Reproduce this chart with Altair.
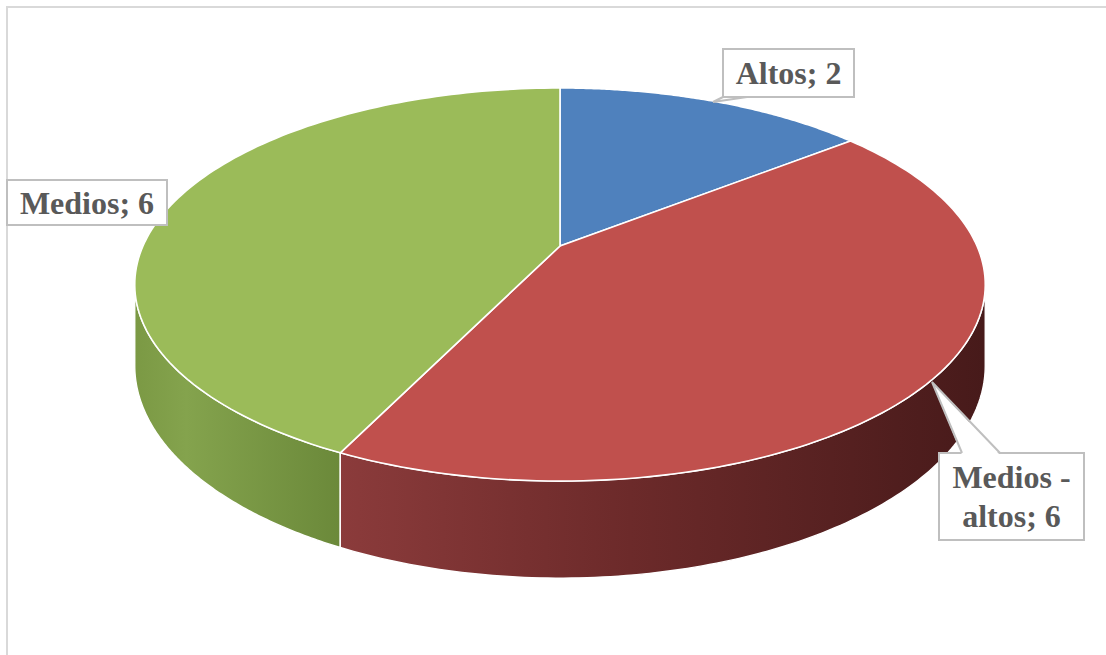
import altair as alt
import pandas as pd
import math

# ---- data ----
categorias = ["Altos", "Medios - altos", "Medios"]
valores = [2, 6, 6]
colores_cara = ["#4f81bd", "#c0504d", "#9bbb59"]

# ---- layout / style (3D perspective pie) ----
W, H = 1106, 655
CX, CY = 560, 246        # apex of the pie on screen
K, KS = 417, 189         # horizontal / vertical radius factors
A = 0.196                # perspective factor
T = 78                   # wall thickness
N = 120                  # samples per arc
TH1 = math.acos(-A)
TH2 = 2 * math.pi - TH1

df = pd.DataFrame({"cat": categorias, "val": valores, "col": colores_cara,
                   "k": list(range(len(categorias)))})

X = alt.X("px:Q", scale=alt.Scale(domain=[0, W], nice=False, zero=False), axis=None)
Y = alt.Y("py:Q", scale=alt.Scale(domain=[0, H], nice=False, zero=False, reverse=True), axis=None)

base = alt.Chart(df).transform_joinaggregate(
    total="sum(val)"
).transform_window(
    cum="sum(val)", sort=[alt.SortField("k")], frame=[None, 0]
).transform_calculate(
    a0="2*PI*(datum.cum - datum.val)/datum.total",
    a1="2*PI*datum.cum/datum.total",
)

def xe(th):
    return f"{CX} + {K}*sin({th})/(1+{A}*cos({th}))"

def ye(th):
    return f"{CY} - {KS}*cos({th})/(1+{A}*cos({th}))"

# top faces
top = base.transform_calculate(
    i=f"sequence(-1, {N + 1})"
).transform_flatten(["i"]).transform_calculate(
    th=f"datum.a0 + (datum.a1 - datum.a0)*max(datum.i, 0)/{N}"
).transform_calculate(
    px=f"datum.i < 0 ? {CX} : " + xe("datum.th"),
    py=f"datum.i < 0 ? {CY} : " + ye("datum.th"),
).mark_line(
    interpolate="linear-closed", stroke="white", strokeWidth=1.6, strokeJoin="round"
).encode(
    x=X, y=Y, fill=alt.Fill("col:N", scale=None, legend=None),
    detail="cat:N", order=alt.Order("i:Q")
)

# side walls
walls = base.transform_calculate(
    ws=f"max(datum.a0, {TH1})", we=f"min(datum.a1, {TH2})"
).transform_filter(
    "datum.ws < datum.we"
).transform_calculate(
    i=f"sequence(0, {2 * N + 2})"
).transform_flatten(["i"]).transform_calculate(
    j=f"datum.i <= {N} ? datum.i : datum.i - {N + 1}"
).transform_calculate(
    th=f"datum.i <= {N} ? datum.ws + (datum.we - datum.ws)*datum.j/{N} : datum.we - (datum.we - datum.ws)*datum.j/{N}"
).transform_calculate(
    px=xe("datum.th"),
    py=ye("datum.th") + f" + (datum.i > {N} ? {T}/(1+{A}*cos(datum.th)) : 0)",
)

grad_red = alt.Gradient(gradient="linear", x1=0, x2=1, y1=0, y2=0, stops=[
    alt.GradientStop(color="#8b3b3b", offset=0),
    alt.GradientStop(color="#6c2a2a", offset=0.45),
    alt.GradientStop(color="#471a1a", offset=1),
])
grad_green = alt.Gradient(gradient="linear", x1=0, x2=1, y1=0, y2=0, stops=[
    alt.GradientStop(color="#7b9944", offset=0),
    alt.GradientStop(color="#84a34d", offset=0.25),
    alt.GradientStop(color="#6b893a", offset=1),
])

wall_red = walls.transform_filter(alt.datum.cat == categorias[1]).mark_line(
    interpolate="linear-closed", fill=grad_red, stroke="white", strokeWidth=1.4
).encode(x=X, y=Y, order=alt.Order("i:Q"))
wall_green = walls.transform_filter(alt.datum.cat == categorias[2]).mark_line(
    interpolate="linear-closed", fill=grad_green, stroke="white", strokeWidth=1.4
).encode(x=X, y=Y, order=alt.Order("i:Q"))

# ---- labels (layout) ----
LINE_H = 39
etiquetas = [f"{c}; {v}" for c, v in zip(categorias, valores)]
lab_lines = [[etiquetas[0]], ["Medios -", "altos; 6"], [etiquetas[2]]]
box_x = [723, 939, 7]
box_x2 = [854, 1084, 167]
box_y = [49, 453, 180]
box_y2 = [97, 540, 225]
lab = pd.DataFrame({
    "txt": lab_lines,
    "x": box_x, "x2": box_x2, "y": box_y, "y2": box_y2,
})
lab["n"] = [len(t) for t in lab_lines]
lab["tx"] = (lab["x"] + lab["x2"]) / 2
lab["ty"] = (lab["y"] + lab["y2"]) / 2 - (lab["n"] - 1) * LINE_H / 2 + 1

XS = alt.Scale(domain=[0, W], nice=False, zero=False)
YS = alt.Scale(domain=[0, H], nice=False, zero=False, reverse=True)

boxes = alt.Chart(lab).mark_rect(fill="white", stroke="#bfbfbf", strokeWidth=2).encode(
    x=alt.X("x:Q", scale=XS, axis=None), x2="x2:Q",
    y=alt.Y("y:Q", scale=YS, axis=None), y2="y2:Q",
)

# callout tails
tail = pd.DataFrame({
    "g": ["a", "a", "a", "b", "b", "b"],
    "o": [0, 1, 2, 0, 1, 2],
    "px": [723, 713, 747, 962, 932, 1000],
    "py": [97, 102, 97, 453, 382, 453],
})
tail_fill = alt.Chart(tail).transform_calculate(
    py="datum.o == 1 ? datum.py : datum.py + 2"
).mark_line(interpolate="linear-closed", fill="white", strokeWidth=0).encode(
    x=X, y=Y, detail="g:N", order="o:Q")
tail_line = alt.Chart(tail).mark_line(stroke="#bfbfbf", strokeWidth=2).encode(
    x=X, y=Y, detail="g:N", order="o:Q")

texts = alt.Chart(lab).mark_text(
    font="Liberation Serif", fontWeight="bold", fontSize=32, color="#595959",
    lineHeight=LINE_H, align="center", baseline="middle"
).encode(
    x=alt.X("tx:Q", scale=XS, axis=None), y=alt.Y("ty:Q", scale=YS, axis=None),
    text="txt",
)

frame = alt.Chart(pd.DataFrame({"a": [0]})).mark_rect(
    fill=None, stroke="#d9d9d9", strokeWidth=2
).encode(x=alt.value(7), x2=alt.value(1400), y=alt.value(7), y2=alt.value(900))

chart = alt.layer(
    frame, wall_green, wall_red, top, boxes, tail_fill, tail_line, texts
).properties(
    width=W, height=H, padding=0, autosize=alt.AutoSizeParams(type="none"),
    background="white"
).configure_view(strokeWidth=0)

chart.save("out.html", embed_options={"renderer": "svg", "actions": False})
